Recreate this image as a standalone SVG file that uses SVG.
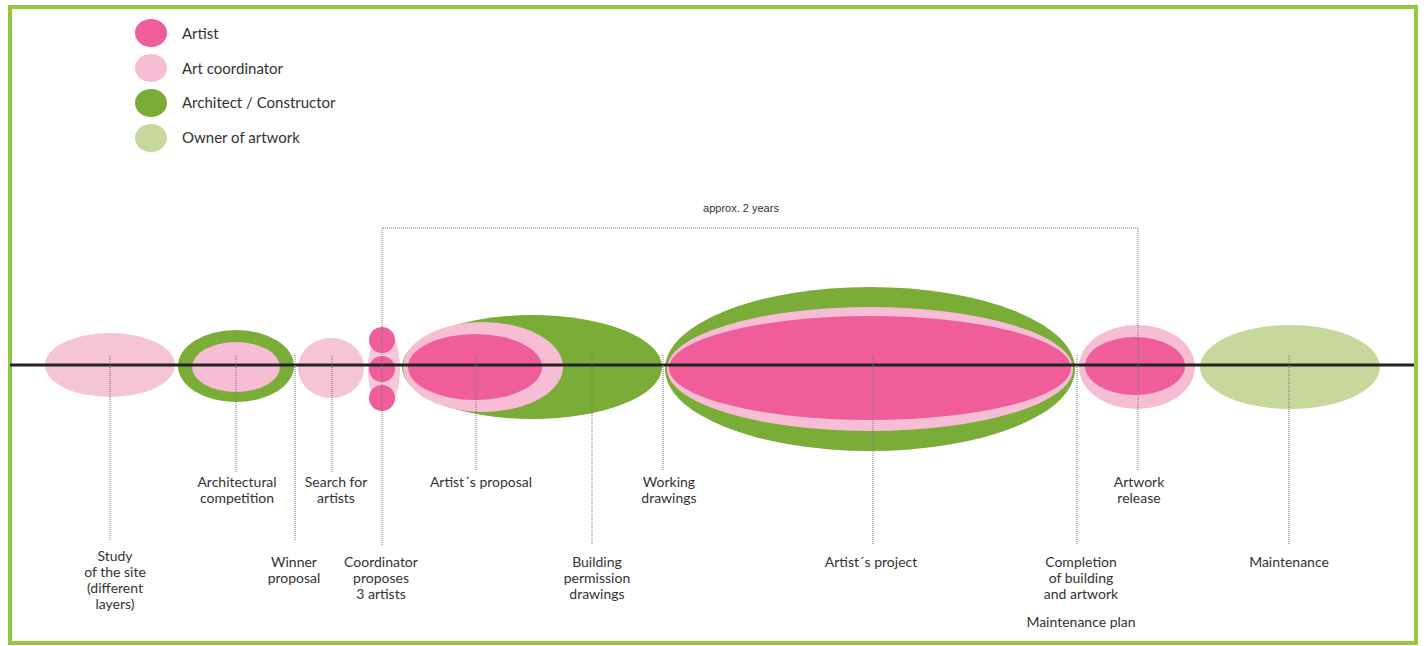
<svg xmlns="http://www.w3.org/2000/svg" width="1424" height="646" viewBox="0 0 1424 646">
<style>
text{font-family:Lato,"Open Sans","Liberation Sans",sans-serif;fill:#333;}
.lbl{font-size:14px;text-anchor:middle;}
.leg{font-size:15px;}
.small{font-size:11px;text-anchor:middle;font-family:"Liberation Sans",sans-serif;}
.dot{stroke:#777;stroke-width:1;stroke-dasharray:1 1;fill:none;}
.pk{fill:#ef5d9b;}
.lp{fill:#f7bdd5;}
.gr{fill:#7aac38;}
.ow{fill:#c8d79c;}
</style>
<rect x="0" y="0" width="1424" height="646" fill="#fff"/>
<rect x="10" y="7" width="1406" height="636" fill="none" stroke="#94c840" stroke-width="4"/>

<g id="legend">
<ellipse class="pk" cx="151" cy="33" rx="16" ry="14"/>
<text class="leg" x="182" y="39">Artist</text>
<ellipse class="lp" cx="151" cy="68" rx="16" ry="14"/>
<text class="leg" x="182" y="74">Art coordinator</text>
<ellipse class="gr" cx="151" cy="103" rx="16" ry="14"/>
<text class="leg" x="182" y="108">Architect / Constructor</text>
<ellipse class="ow" cx="151" cy="138" rx="16" ry="14"/>
<text class="leg" x="182" y="143">Owner of artwork</text>
</g>

<g id="study">
<ellipse fill="#f6c4d7" cx="110" cy="365" rx="65" ry="32"/>
<text class="lbl" x="115" y="561">Study</text>
<text class="lbl" x="115" y="577">of the site</text>
<text class="lbl" x="115" y="593">(different</text>
<text class="lbl" x="115" y="609">layers)</text>
</g>

<g id="architectural-competition">
<ellipse class="gr" cx="236" cy="366" rx="58" ry="36"/>
<ellipse class="lp" cx="236" cy="367" rx="44" ry="25"/>
<text class="lbl" x="237" y="487">Architectural</text>
<text class="lbl" x="237" y="503">competition</text>
</g>

<g id="winner-proposal">
<text class="lbl" x="294" y="567">Winner</text>
<text class="lbl" x="294" y="583">proposal</text>
</g>

<g id="search-for-artists">
<ellipse fill="#f6c4d7" cx="331" cy="368" rx="33" ry="30"/>
<text class="lbl" x="336" y="487">Search for</text>
<text class="lbl" x="336" y="503">artists</text>
</g>

<g id="coordinator-proposes">
<ellipse fill="#f7c7da" cx="384" cy="369" rx="16" ry="40"/>
<circle class="pk" cx="382" cy="340" r="13"/>
<circle class="pk" cx="382" cy="369" r="13"/>
<circle class="pk" cx="382" cy="398" r="13"/>
<text class="lbl" x="381" y="567">Coordinator</text>
<text class="lbl" x="381" y="583">proposes</text>
<text class="lbl" x="381" y="599">3 artists</text>
</g>

<g id="artists-proposal">
<ellipse class="gr" cx="532" cy="367" rx="130" ry="52"/>
<ellipse class="lp" cx="483" cy="367" rx="80" ry="45"/>
<ellipse class="pk" cx="475" cy="367" rx="67" ry="33"/>
<text class="lbl" x="481" y="487">Artist´s proposal</text>
</g>

<g id="building-permission">
<text class="lbl" x="597" y="567">Building</text>
<text class="lbl" x="597" y="583">permission</text>
<text class="lbl" x="597" y="599">drawings</text>
</g>

<g id="working-drawings">
<text class="lbl" x="669" y="487">Working</text>
<text class="lbl" x="669" y="503">drawings</text>
</g>

<g id="artists-project">
<ellipse class="gr" cx="870" cy="369" rx="205" ry="82"/>
<ellipse class="lp" cx="870" cy="369" rx="203" ry="62"/>
<ellipse class="pk" cx="870" cy="368" rx="201" ry="52"/>
<text class="lbl" x="871" y="567">Artist´s project</text>
</g>

<g id="completion">
<text class="lbl" x="1081" y="567">Completion</text>
<text class="lbl" x="1081" y="583">of building</text>
<text class="lbl" x="1081" y="599">and artwork</text>
<text class="lbl" x="1081" y="627">Maintenance plan</text>
</g>

<g id="artwork-release">
<ellipse class="lp" cx="1137" cy="367" rx="58" ry="42"/>
<ellipse class="pk" cx="1135" cy="366" rx="50" ry="29"/>
<text class="lbl" x="1139" y="487">Artwork</text>
<text class="lbl" x="1139" y="503">release</text>
</g>

<g id="maintenance">
<ellipse class="ow" cx="1290" cy="367" rx="90" ry="42"/>
<text class="lbl" x="1289" y="567">Maintenance</text>
</g>

<g id="connectors">
<line x1="10" y1="365" x2="1414" y2="365" stroke="#222" stroke-width="3"/>
<path class="dot" d="M382 545 V228 H1138 V470"/>
<text class="small" x="741" y="212">approx. 2 years</text>
<line class="dot" x1="110" y1="355" x2="110" y2="540"/>
<line class="dot" x1="236" y1="355" x2="236" y2="472"/>
<line class="dot" x1="295" y1="355" x2="295" y2="540"/>
<line class="dot" x1="332" y1="355" x2="332" y2="472"/>
<line class="dot" x1="476" y1="355" x2="476" y2="470"/>
<line class="dot" x1="592" y1="355" x2="592" y2="545"/>
<line class="dot" x1="663" y1="355" x2="663" y2="470"/>
<line class="dot" x1="873" y1="355" x2="873" y2="545"/>
<line class="dot" x1="1077" y1="355" x2="1077" y2="545"/>
<line class="dot" x1="1289" y1="355" x2="1289" y2="545"/>
</g>
</svg>
